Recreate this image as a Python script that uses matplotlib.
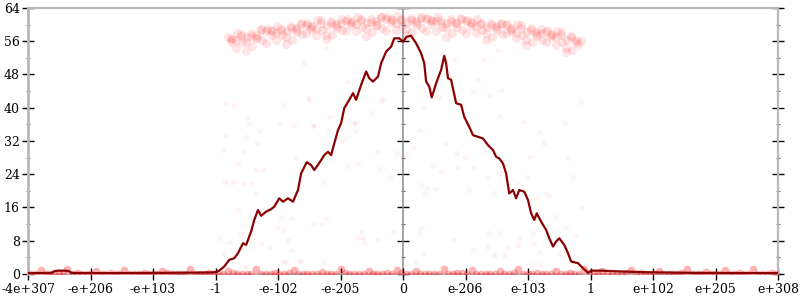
import matplotlib
matplotlib.use("Agg")
import matplotlib.pyplot as plt
from matplotlib.ticker import MultipleLocator

plt.rcParams['font.family'] = ['DejaVu Serif']

# ---- tick labels (x axis uses an index scale -6..6) ----
x_tick_pos = [-6, -5, -4, -3, -2, -1, 0, 1, 2, 3, 4, 5, 6]
x_tick_labels = ['-4e+307', '-e+206', '-e+103', '-1', '-e-102', '-e-205', '0',
                 'e-206', 'e-103', '1', 'e+102', 'e+205', 'e+308']
y_ticks = [0, 8, 16, 24, 32, 40, 48, 56, 64]

# ---- main line ----
line_x = [-6.0, -5.63, -5.57, -5.52, -5.40, -5.35, -5.30, -4.83, -4.03, -3.23,
          -3.04, -2.99, -2.94, -2.86, -2.78, -2.70, -2.64, -2.56, -2.51, -2.43,
          -2.38, -2.32, -2.27, -2.19, -2.11, -2.06, -1.98, -1.92, -1.84, -1.76,
          -1.68, -1.63, -1.54, -1.47, -1.42, -1.34, -1.26, -1.20, -1.15, -1.10,
          -1.04, -0.99, -0.94, -0.86, -0.80, -0.75, -0.67, -0.59, -0.54, -0.48,
          -0.40, -0.35, -0.27, -0.19, -0.14, -0.06, 0.0, 0.06, 0.13, 0.21,
          0.29, 0.34, 0.37, 0.42, 0.46, 0.53, 0.61, 0.66, 0.69, 0.72,
          0.77, 0.85, 0.93, 0.98, 1.06, 1.12, 1.20, 1.28, 1.36, 1.44,
          1.49, 1.54, 1.60, 1.65, 1.70, 1.76, 1.81, 1.86, 1.94, 2.00,
          2.05, 2.10, 2.14, 2.21, 2.29, 2.34, 2.40, 2.45, 2.50, 2.58,
          2.64, 2.69, 2.80, 2.88, 2.96, 3.01, 3.17, 3.49, 3.97, 4.77, 6.0]
line_y = [0.2, 0.25, 0.7, 0.8, 0.8, 0.7, 0.25, 0.2, 0.25, 0.35,
          0.4, 0.5, 0.8, 1.8, 3.4, 3.8, 5.0, 7.4, 7.0, 10.2,
          13.0, 15.4, 14.0, 15.0, 15.6, 16.2, 18.2, 17.4, 18.2, 17.4,
          20.2, 24.2, 26.9, 26.2, 25.0, 26.7, 28.6, 29.4, 28.6, 31.4,
          34.6, 36.3, 39.9, 41.9, 43.5, 41.9, 45.5, 48.7, 47.1, 46.3,
          47.5, 50.7, 53.5, 54.7, 56.7, 56.7, 55.9, 57.1, 57.3, 55.5,
          53.1, 50.7, 46.3, 45.1, 42.5, 45.9, 49.1, 52.5, 50.7, 47.1,
          46.7, 41.1, 40.7, 37.8, 35.4, 33.4, 33.0, 32.6, 31.0, 29.8,
          28.2, 27.8, 26.6, 24.2, 19.4, 20.2, 18.2, 20.2, 19.8, 17.8,
          14.6, 13.0, 14.6, 12.6, 10.6, 8.6, 6.6, 7.8, 8.6, 7.0,
          5.0, 3.0, 2.6, 1.4, 0.3, 0.8, 0.8, 0.6, 0.4, 0.25, 0.2]

# ---- faint sample points: top band ----
top_x = [-2.80, -2.76, -2.73, -2.68, -2.65, -2.60, -2.57, -2.52, -2.49, -2.44,
         -2.41, -2.36, -2.33, -2.28, -2.25, -2.20, -2.17, -2.12, -2.09, -2.04,
         -2.01, -1.96, -1.93, -1.88, -1.85, -1.80, -1.77, -1.72, -1.69, -1.64,
         -1.61, -1.56, -1.53, -1.48, -1.45, -1.40, -1.37, -1.32, -1.29, -1.24,
         -1.21, -1.16, -1.13, -1.08, -1.05, -1.00, -0.97, -0.92, -0.89, -0.84,
         -0.81, -0.76, -0.73, -0.68, -0.65, -0.60, -0.57, -0.52, -0.49, -0.44,
         -0.41, -0.36, -0.33, -0.28, -0.25, -0.20, -0.17, -0.12, -0.09, -0.04,
         -0.01, 0.04, 0.07, 0.12, 0.15, 0.20, 0.23, 0.28, 0.31, 0.36,
         0.39, 0.44, 0.47, 0.52, 0.55, 0.60, 0.63, 0.68, 0.71, 0.76,
         0.79, 0.84, 0.87, 0.92, 0.95, 1.00, 1.03, 1.08, 1.11, 1.16,
         1.19, 1.24, 1.27, 1.32, 1.35, 1.40, 1.43, 1.48, 1.51, 1.56,
         1.59, 1.64, 1.67, 1.72, 1.75, 1.80, 1.83, 1.88, 1.91, 1.96,
         1.99, 2.04, 2.07, 2.12, 2.15, 2.20, 2.23, 2.28, 2.31, 2.36,
         2.39, 2.44, 2.47, 2.52, 2.55, 2.60, 2.63, 2.68, 2.71, 2.76, 2.80]
top_y = [57.1, 55.8, 56.5, 54.4, 57.9, 57.2, 55.7, 53.6, 56.9, 58.0,
         54.8, 57.6, 56.7, 58.8, 56.3, 58.5, 59.0, 57.6, 58.4, 56.2,
         59.7, 59.0, 57.5, 55.3, 58.5, 59.7, 56.4, 59.1, 58.3, 60.3,
         57.7, 59.9, 60.4, 59.0, 59.7, 57.5, 61.0, 60.3, 58.7, 56.5,
         59.7, 60.8, 57.5, 60.2, 59.3, 61.3, 58.7, 60.9, 61.3, 59.9,
         60.6, 58.4, 61.8, 61.0, 59.4, 57.2, 60.4, 61.4, 58.2, 60.8,
         59.9, 61.8, 59.2, 61.4, 61.8, 60.3, 61.0, 58.7, 62.1, 61.3,
         59.7, 57.4, 60.6, 61.6, 58.3, 60.9, 60.0, 61.9, 59.2, 61.3,
         61.7, 60.2, 60.9, 58.5, 61.9, 61.1, 59.5, 57.1, 60.3, 61.3,
         57.9, 60.5, 59.5, 61.4, 58.8, 60.8, 61.2, 59.6, 60.3, 57.9,
         61.3, 60.4, 58.7, 56.4, 59.5, 60.4, 57.1, 59.6, 58.6, 60.4,
         57.8, 59.8, 60.1, 58.5, 59.2, 56.8, 60.1, 59.2, 57.5, 55.1,
         58.2, 59.1, 55.7, 58.2, 57.2, 59.0, 56.3, 58.3, 58.6, 57.0,
         57.6, 55.1, 58.4, 57.5, 55.8, 53.3, 56.4, 57.3, 53.9, 56.4, 55.3]
top2_x = [-2.75, -2.67, -2.59, -2.51, -2.43, -2.35, -2.27, -2.19, -2.11, -2.03,
          -1.95, -1.87, -1.79, -1.71, -1.63, -1.55, -1.47, -1.39, -1.31, -1.23,
          -1.15, -1.07, -0.99, -0.91, -0.83, -0.75, -0.67, -0.59, -0.51, -0.43,
          -0.35, -0.27, -0.19, -0.11, -0.03, 0.05, 0.13, 0.21, 0.29, 0.37,
          0.45, 0.53, 0.61, 0.69, 0.77, 0.85, 0.93, 1.01, 1.09, 1.17,
          1.25, 1.33, 1.41, 1.49, 1.57, 1.65, 1.73, 1.81, 1.89, 1.97,
          2.05, 2.13, 2.21, 2.29, 2.37, 2.45, 2.53, 2.61, 2.69, 2.77, 2.85]
top2_y = [56.6, 56.2, 57.7, 55.7, 57.3, 56.8, 58.9, 55.6, 58.6, 57.9,
          58.7, 56.9, 59.2, 58.7, 60.1, 58.1, 59.5, 58.9, 61.0, 57.6,
          60.5, 59.7, 60.4, 58.5, 60.7, 60.2, 61.4, 59.3, 60.6, 60.0,
          61.9, 58.5, 61.3, 60.4, 61.0, 59.0, 61.1, 60.5, 61.6, 58.4,
          61.0, 60.9, 60.3, 59.2, 60.8, 60.4, 61.5, 57.9, 60.6, 59.6,
          60.1, 57.9, 59.9, 59.2, 60.2, 57.9, 59.0, 58.1, 59.9, 56.2,
          58.8, 57.7, 58.1, 55.9, 57.7, 56.9, 58.2, 54.4, 57.0, 55.8, 56.1]

# ---- faint sample points: scattered middle ----
mid_x = [-2.83, -2.51, -2.30, -2.88, -2.54, -2.35, -2.24, -2.85, -2.72, -2.54,
         -2.43, -2.35, -2.08, -2.64, -1.95, -1.79, -2.00, -1.92, -2.94, -2.78,
         -2.59, -2.27, -2.14, -1.84, -1.79, -1.90, -1.63, -2.51, -2.86, -2.83,
         -2.70, -2.50, -2.46, -2.34, -1.98, -1.74, -1.92, -1.44, -1.18, -1.17,
         -0.77, -0.77, -0.96, -0.42, -0.10, -0.72, -0.90, -0.38, -0.21, -1.28,
         -1.71, -2.64, -1.50, -0.32, -1.58, -1.23, -0.88, -0.35, -0.51, -0.78,
         -1.52, -1.42, -1.87, -1.66, -1.26, -1.44, -1.31, -1.23, -0.67, -0.64,
         -0.72, -0.40, -0.62, -0.16, 0.32, 1.54, 1.94, 2.59, 2.85, 0.27,
         2.18, 2.26, 0.67, 0.16, 0.05, 0.86, 0.99, 2.03, 2.64, 0.48,
         0.61, 0.88, 1.14, 1.57, 1.36, 1.98, 2.72, 0.29, 0.38, 0.51,
         0.35, 1.06, 1.46, 1.86, 2.29, 2.13, 2.34, 2.85, 2.45, 2.61,
         2.77, 1.86, 2.08, 1.68, 2.10, 2.18, 1.46, 1.62, 2.08, 2.21,
         2.42, 2.50, 2.72, 0.29, 0.26, 0.32, 0.21, 0.80, 1.12, 1.38,
         1.55, 1.36, 1.84, 1.20, 1.57, 1.12, 1.38, 0.82, 1.30, 1.52, 0.58]
mid_y = [33.4, 33.0, 34.4, 29.8, 29.4, 25.0, 25.0, 22.1, 22.1, 21.7,
         21.9, 19.2, 17.3, 15.4, 13.5, 13.5, 11.3, 10.6, 8.7, 7.7,
         9.9, 7.5, 6.5, 8.2, 5.8, 2.9, 3.1, 1.7, 4.8, 41.1,
         40.7, 37.8, 36.1, 31.5, 36.3, 35.8, 40.7, 35.6, 34.4, 37.8,
         36.3, 34.4, 32.2, 29.4, 29.1, 26.7, 26.0, 25.3, 23.3, 22.1,
         27.9, 26.7, 41.9, 41.9, 50.8, 54.4, 46.2, 41.9, 38.7, 36.3,
         42.3, 35.8, 2.9, 3.1, 2.9, 12.0, 12.0, 13.5, 10.1, 8.7,
         8.7, 8.2, 7.5, 10.1, 40.2, 38.0, 36.6, 36.3, 41.4, 34.6,
         34.2, 31.5, 31.5, 30.6, 28.6, 29.1, 28.2, 28.2, 27.9, 26.0,
         24.8, 25.7, 25.5, 24.3, 23.1, 23.3, 23.3, 21.4, 20.7, 20.5,
         19.5, 20.2, 19.5, 21.7, 19.2, 18.5, 18.8, 15.9, 13.7, 11.1,
         9.4, 8.7, 9.9, 6.5, 7.5, 5.3, 4.6, 4.6, 2.2, 2.2,
         1.0, 5.1, 2.9, 11.1, 9.9, 5.1, 2.9, 8.2, 5.8, 9.9,
         9.9, 6.5, 7.0, 46.7, 44.3, 43.8, 43.1, 51.5, 51.5, 53.9, 42.6]

# ---- faint sample points: floor band ----
floor_x = [-5.95, -5.80, -5.66, -5.50, -5.37, -5.21, -5.05, -4.92, -4.77, -4.60,
           -4.46, -4.31, -4.15, -4.00, -3.86, -3.70, -3.55, -3.41, -3.25, -3.10,
           -2.96, -2.80, -2.65, -2.50, -2.36, -2.20, -2.05, -1.91, -1.75, -1.60,
           -1.46, -1.30, -1.15, -1.00, -0.86, -0.70, -0.55, -0.41, -0.25, -0.10,
           0.04, 0.20, 0.35, 0.49, 0.65, 0.80, 0.94, 1.10, 1.25, 1.39,
           1.55, 1.70, 1.84, 2.00, 2.15, 2.29, 2.45, 2.60, 2.74, 2.90,
           3.05, 3.19, 3.35, 3.50, 3.64, 3.80, 3.95, 4.09, 4.25, 4.40,
           4.54, 4.70, 4.85, 4.99, 5.15, 5.30, 5.44, 5.60, 5.75, 5.90,
           -5.88, -5.73, -5.58, -5.44, -5.29, -5.13, -4.99, -4.84, -4.68, -4.53,
           -4.38, -4.23, -4.08, -3.93, -3.78, -3.62, -3.48, -3.33, -3.17, -3.03,
           -2.88, -2.72, -2.58, -2.43, -2.28, -2.12, -1.98, -1.83, -1.68, -1.53,
           -1.38, -1.22, -1.08, -0.93, -0.78, -0.62, -0.48, -0.33, -0.18, -0.03,
           0.12, 0.27, 0.42, 0.57, 0.72, 0.87, 1.02, 1.17, 1.32, 1.47,
           1.62, 1.77, 1.92, 2.07, 2.22, 2.37, 2.52, 2.67, 2.82, 2.97,
           3.12, 3.27, 3.42, 3.57, 3.72, 3.87, 4.02, 4.17, 4.32, 4.47,
           4.62, 4.77, 4.92, 5.07, 5.22, 5.37, 5.52, 5.67, 5.82, 5.97]
floor_y = [0.0, 0.9, 0.1, 0.0, 1.2, 0.2, 0.0, 0.6, 0.0, 0.1,
           1.0, 0.0, 0.3, 0.0, 0.8, 0.1, 0.0, 1.3, 0.0, 0.2,
           0.0, 0.7, 0.1, 0.0, 1.1, 0.0, 0.3, 0.0, 0.9, 0.1,
           0.0, 0.5, 0.0, 1.2, 0.1, 0.0, 0.8, 0.0, 0.2, 1.0,
           0.0, 0.6, 0.1, 0.0, 1.3, 0.0, 0.2, 0.9, 0.0, 0.1,
           0.7, 0.0, 1.1, 0.0, 0.3, 0.0, 0.8, 0.1, 0.0, 1.2,
           0.0, 0.6, 0.1, 0.0, 1.0, 0.2, 0.0, 0.7, 0.0, 0.1,
           1.3, 0.0, 0.4, 0.0, 0.9, 0.1, 0.0, 1.1, 0.0, 0.2,
           0.0, 0.0, 0.2, 0.0, 0.0, 0.1, 0.0, 0.0, 0.3, 0.0,
           0.0, 0.1, 0.0, 0.0, 0.2, 0.0, 0.0, 0.1, 0.0, 0.0,
           0.0, 0.2, 0.0, 0.0, 0.1, 0.0, 0.0, 0.3, 0.0, 0.0,
           0.1, 0.0, 0.0, 0.2, 0.0, 0.0, 0.1, 0.0, 0.0, 0.2,
           0.0, 0.0, 0.1, 0.0, 0.0, 0.3, 0.0, 0.0, 0.1, 0.0,
           0.0, 0.2, 0.0, 0.0, 0.1, 0.0, 0.0, 0.2, 0.0, 0.0,
           0.1, 0.0, 0.0, 0.3, 0.0, 0.0, 0.1, 0.0, 0.0, 0.2,
           0.0, 0.0, 0.1, 0.0, 0.0, 0.2, 0.0, 0.0, 0.1, 0.0]

fig = plt.figure(figsize=(8, 3), dpi=100)
ax = fig.add_axes([0.035, 0.0867, 0.9375, 0.8867])
ax.set_xlim(-6, 6)
ax.set_ylim(0, 64)

ax.scatter(mid_x, mid_y, s=14, color='#ff0000', alpha=0.05, linewidths=0, zorder=1)
ax.scatter(top_x, top_y, s=42, color='#ff0000', alpha=0.10, linewidths=0, zorder=1)
ax.scatter(top2_x, top2_y, s=42, color='#ff0000', alpha=0.10, linewidths=0, zorder=1)
ax.scatter(floor_x, floor_y, s=30, color='#ff0000', alpha=0.3, linewidths=0, zorder=3)
ax.plot(line_x, line_y, color='#8b0000', lw=1.6, zorder=4)

# spines
for side in ['left', 'top', 'right', 'bottom']:
    ax.spines[side].set_color('#b8b8b8')
ax.spines['left'].set_linewidth(2.0)
ax.spines['right'].set_linewidth(1.6)
ax.spines['top'].set_linewidth(1.6)
ax.spines['bottom'].set_linewidth(1.2)

ax.set_xticks(x_tick_pos)
ax.set_xticklabels(x_tick_labels)
ax.set_yticks(y_ticks)
ax.yaxis.set_minor_locator(MultipleLocator(4))
ax.tick_params(axis='x', direction='inout', length=8.5, width=1.0, color='black',
               labelsize=9, pad=2.5)
ax.tick_params(axis='y', which='major', direction='inout', length=9, width=1.0,
               color='black', left=True, right=True, labelsize=9, pad=1.5)
ax.tick_params(axis='y', which='minor', direction='inout', length=3.5, width=0.8,
               color='#666666', left=True, right=True)

# centre axis at x = 0
sec = ax.secondary_yaxis(0.5)
sec.set_yticks(y_ticks)
sec.yaxis.set_minor_locator(MultipleLocator(4))
sec.tick_params(which='major', direction='inout', length=9, width=1.0, color='black',
                labelleft=False, labelright=False)
sec.tick_params(which='minor', direction='inout', length=3.5, width=0.8, color='#666666',
                labelleft=False, labelright=False)
for sp in sec.spines.values():
    sp.set_color('#8c8c8c')
    sp.set_linewidth(1.1)

fig.savefig('out.png', dpi=100)
